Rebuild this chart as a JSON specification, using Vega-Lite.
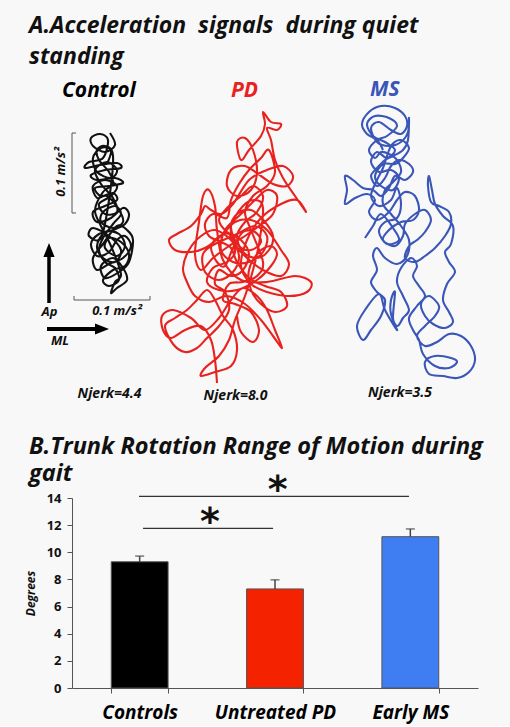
{
"$schema": "https://vega.github.io/schema/vega-lite/v6.json",
"background": "#f8f8f8",
"padding": {"left": 24, "top": 0, "right": 0, "bottom": 4},
"bounds": "flush",
"spacing": 88,
"config": {"view": {"stroke": null}, "font": "Open Sans"},
"resolve": {"scale": {"color": "independent"}},
"datasets": {
"traces": [
{"g":"Control","i":1,"x":105,"y":133},{"g":"Control","i":2,"x":110,"y":145},{"g":"Control","i":3,"x":100,"y":152},{"g":"Control","i":4,"x":88,"y":146},{"g":"Control","i":5,"x":86,"y":138},{"g":"Control","i":6,"x":95,"y":134},{"g":"Control","i":7,"x":103,"y":140},{"g":"Control","i":8,"x":98,"y":158},{"g":"Control","i":9,"x":84,"y":162},{"g":"Control","i":10,"x":80,"y":168},{"g":"Control","i":11,"x":95,"y":165},{"g":"Control","i":12,"x":112,"y":163},{"g":"Control","i":13,"x":116,"y":168},{"g":"Control","i":14,"x":100,"y":170},{"g":"Control","i":15,"x":86,"y":175},{"g":"Control","i":16,"x":92,"y":180},{"g":"Control","i":17,"x":110,"y":178},{"g":"Control","i":18,"x":118,"y":183},{"g":"Control","i":19,"x":104,"y":186},{"g":"Control","i":20,"x":90,"y":188},{"g":"Control","i":21,"x":96,"y":196},{"g":"Control","i":22,"x":108,"y":193},{"g":"Control","i":23,"x":112,"y":200},{"g":"Control","i":24,"x":100,"y":206},{"g":"Control","i":25,"x":88,"y":212},{"g":"Control","i":26,"x":92,"y":222},{"g":"Control","i":27,"x":106,"y":218},{"g":"Control","i":28,"x":118,"y":208},{"g":"Control","i":29,"x":124,"y":214},{"g":"Control","i":30,"x":120,"y":224},{"g":"Control","i":31,"x":108,"y":230},{"g":"Control","i":32,"x":94,"y":234},{"g":"Control","i":33,"x":86,"y":244},{"g":"Control","i":34,"x":92,"y":256},{"g":"Control","i":35,"x":104,"y":252},{"g":"Control","i":36,"x":112,"y":240},{"g":"Control","i":37,"x":120,"y":236},{"g":"Control","i":38,"x":126,"y":246},{"g":"Control","i":39,"x":118,"y":258},{"g":"Control","i":40,"x":104,"y":264},{"g":"Control","i":41,"x":92,"y":270},{"g":"Control","i":42,"x":88,"y":258},{"g":"Control","i":43,"x":98,"y":244},{"g":"Control","i":44,"x":112,"y":226},{"g":"Control","i":45,"x":122,"y":230},{"g":"Control","i":46,"x":128,"y":240},{"g":"Control","i":47,"x":124,"y":262},{"g":"Control","i":48,"x":114,"y":272},{"g":"Control","i":49,"x":100,"y":278},{"g":"Control","i":50,"x":96,"y":266},{"g":"Control","i":51,"x":108,"y":258},{"g":"Control","i":52,"x":118,"y":268},{"g":"Control","i":53,"x":122,"y":280},{"g":"Control","i":54,"x":112,"y":288},{"g":"Control","i":55,"x":106,"y":293},{"g":"Control","i":56,"x":110,"y":282},{"g":"Control","i":57,"x":116,"y":274},{"g":"Control","i":58,"x":106,"y":246},{"g":"Control","i":59,"x":96,"y":226},{"g":"Control","i":60,"x":90,"y":210},{"g":"Control","i":61,"x":98,"y":192},{"g":"Control","i":62,"x":108,"y":184},{"g":"Control","i":63,"x":104,"y":172},{"g":"Control","i":64,"x":94,"y":160},{"g":"Control","i":65,"x":92,"y":150},{"g":"Control","i":66,"x":100,"y":146},{"g":"Control","i":67,"x":108,"y":156},{"g":"Control","i":68,"x":104,"y":200},{"g":"Control","i":69,"x":96,"y":238},{"g":"Control","i":70,"x":84,"y":236},{"g":"Control","i":71,"x":88,"y":228},{"g":"Control","i":72,"x":104,"y":236},{"g":"Control","i":73,"x":116,"y":250},
{"g":"Control","i":74,"x":110,"y":262},{"g":"Control","i":75,"x":98,"y":258},{"g":"Control","i":76,"x":92,"y":246},{"g":"Control","i":77,"x":100,"y":232},{"g":"Control","i":78,"x":114,"y":234},{"g":"Control","i":79,"x":120,"y":246},{"g":"Control","i":80,"x":112,"y":256},{"g":"Control","i":81,"x":100,"y":248},{"g":"Control","i":82,"x":104,"y":238},{"g":"Control","i":83,"x":116,"y":242},{"g":"Control","i":84,"x":124,"y":254},{"g":"Control","i":85,"x":120,"y":266},{"g":"Control","i":86,"x":108,"y":270},{"g":"Control","i":87,"x":98,"y":280},{"g":"Control","i":88,"x":104,"y":286},{"g":"Control","i":89,"x":114,"y":280},{"g":"Control","i":90,"x":110,"y":268},{"g":"Control","i":91,"x":100,"y":262},{"g":"Control","i":92,"x":94,"y":250},{"g":"Control","i":93,"x":98,"y":238},{"g":"Control","i":94,"x":108,"y":224},{"g":"Control","i":95,"x":116,"y":214},{"g":"Control","i":96,"x":110,"y":206},{"g":"Control","i":97,"x":98,"y":212},{"g":"Control","i":98,"x":96,"y":222},{"g":"Control","i":99,"x":108,"y":228},{"g":"Control","i":100,"x":118,"y":222},{"g":"Control","i":101,"x":114,"y":210},{"g":"Control","i":102,"x":102,"y":196},{"g":"Control","i":103,"x":92,"y":198},{"g":"Control","i":104,"x":88,"y":186},{"g":"Control","i":105,"x":100,"y":180},{"g":"Control","i":106,"x":112,"y":186},{"g":"Control","i":107,"x":106,"y":196},{"g":"Control","i":108,"x":94,"y":204},{"g":"Control","i":109,"x":100,"y":214},{"g":"Control","i":110,"x":112,"y":212},{"g":"Control","i":111,"x":108,"y":198},{"g":"Control","i":112,"x":96,"y":184},{"g":"Control","i":113,"x":90,"y":170},{"g":"Control","i":114,"x":102,"y":162},{"g":"Control","i":115,"x":112,"y":170},{"g":"Control","i":116,"x":106,"y":178},{"g":"Control","i":117,"x":92,"y":172},{"g":"Control","i":118,"x":88,"y":158},{"g":"Control","i":119,"x":96,"y":148},{"g":"Control","i":120,"x":106,"y":150},{"g":"Control","i":121,"x":102,"y":164},
{"g":"PD","i":1,"x":212,"y":383},{"g":"PD","i":2,"x":210,"y":360},{"g":"PD","i":3,"x":206,"y":340},{"g":"PD","i":4,"x":196,"y":326},{"g":"PD","i":5,"x":180,"y":330},{"g":"PD","i":6,"x":166,"y":338},{"g":"PD","i":7,"x":158,"y":330},{"g":"PD","i":8,"x":157,"y":316},{"g":"PD","i":9,"x":168,"y":310},{"g":"PD","i":10,"x":186,"y":318},{"g":"PD","i":11,"x":200,"y":330},{"g":"PD","i":12,"x":214,"y":318},{"g":"PD","i":13,"x":226,"y":300},{"g":"PD","i":14,"x":238,"y":288},{"g":"PD","i":15,"x":252,"y":296},{"g":"PD","i":16,"x":262,"y":310},{"g":"PD","i":17,"x":270,"y":330},{"g":"PD","i":18,"x":277,"y":348},{"g":"PD","i":19,"x":268,"y":336},{"g":"PD","i":20,"x":256,"y":320},{"g":"PD","i":21,"x":240,"y":304},{"g":"PD","i":22,"x":222,"y":296},{"g":"PD","i":23,"x":204,"y":302},{"g":"PD","i":24,"x":190,"y":296},{"g":"PD","i":25,"x":182,"y":282},{"g":"PD","i":26,"x":178,"y":268},{"g":"PD","i":27,"x":184,"y":250},{"g":"PD","i":28,"x":196,"y":236},{"g":"PD","i":29,"x":210,"y":230},{"g":"PD","i":30,"x":226,"y":240},{"g":"PD","i":31,"x":234,"y":256},{"g":"PD","i":32,"x":228,"y":272},{"g":"PD","i":33,"x":214,"y":280},{"g":"PD","i":34,"x":200,"y":272},{"g":"PD","i":35,"x":198,"y":254},{"g":"PD","i":36,"x":210,"y":244},{"g":"PD","i":37,"x":232,"y":234},{"g":"PD","i":38,"x":250,"y":226},{"g":"PD","i":39,"x":262,"y":236},{"g":"PD","i":40,"x":258,"y":252},{"g":"PD","i":41,"x":244,"y":262},{"g":"PD","i":42,"x":228,"y":262},{"g":"PD","i":43,"x":216,"y":250},{"g":"PD","i":44,"x":220,"y":230},{"g":"PD","i":45,"x":236,"y":214},{"g":"PD","i":46,"x":250,"y":200},{"g":"PD","i":47,"x":262,"y":190},{"g":"PD","i":48,"x":272,"y":196},{"g":"PD","i":49,"x":268,"y":214},{"g":"PD","i":50,"x":254,"y":226},{"g":"PD","i":51,"x":240,"y":236},{"g":"PD","i":52,"x":224,"y":246},{"g":"PD","i":53,"x":208,"y":258},{"g":"PD","i":54,"x":196,"y":270},{"g":"PD","i":55,"x":190,"y":254},{"g":"PD","i":56,"x":194,"y":222},{"g":"PD","i":57,"x":198,"y":196},{"g":"PD","i":58,"x":204,"y":190},{"g":"PD","i":59,"x":210,"y":206},{"g":"PD","i":60,"x":212,"y":230},{"g":"PD","i":61,"x":218,"y":260},{"g":"PD","i":62,"x":236,"y":280},{"g":"PD","i":63,"x":262,"y":282},{"g":"PD","i":64,"x":290,"y":276},{"g":"PD","i":65,"x":306,"y":282},{"g":"PD","i":66,"x":302,"y":292},{"g":"PD","i":67,"x":284,"y":296},{"g":"PD","i":68,"x":262,"y":292},{"g":"PD","i":69,"x":246,"y":284},{"g":"PD","i":70,"x":236,"y":266},{"g":"PD","i":71,"x":242,"y":240},{"g":"PD","i":72,"x":256,"y":218},{"g":"PD","i":73,"x":276,"y":204},{"g":"PD","i":74,"x":292,"y":200},{"g":"PD","i":75,"x":301,"y":212},{"g":"PD","i":76,"x":290,"y":196},{"g":"PD","i":77,"x":278,"y":178},{"g":"PD","i":78,"x":270,"y":160},{"g":"PD","i":79,"x":266,"y":140},{"g":"PD","i":80,"x":262,"y":128},{"g":"PD","i":81,"x":272,"y":130},{"g":"PD","i":82,"x":276,"y":124},{"g":"PD","i":83,"x":266,"y":122},{"g":"PD","i":84,"x":258,"y":112},{"g":"PD","i":85,"x":260,"y":124},{"g":"PD","i":86,"x":256,"y":136},{"g":"PD","i":87,"x":244,"y":150},{"g":"PD","i":88,"x":236,"y":160},{"g":"PD","i":89,"x":232,"y":142},{"g":"PD","i":90,"x":240,"y":138},{"g":"PD","i":91,"x":248,"y":150},{"g":"PD","i":92,"x":252,"y":172},{"g":"PD","i":93,"x":246,"y":190},{"g":"PD","i":94,"x":232,"y":196},{"g":"PD","i":95,"x":222,"y":186},{"g":"PD","i":96,"x":226,"y":170},{"g":"PD","i":97,"x":240,"y":166},{"g":"PD","i":98,"x":256,"y":176},{"g":"PD","i":99,"x":268,"y":184},{"g":"PD","i":100,"x":282,"y":186},{"g":"PD","i":101,"x":288,"y":176},{"g":"PD","i":102,"x":278,"y":166},{"g":"PD","i":103,"x":262,"y":170},{"g":"PD","i":104,"x":244,"y":180},{"g":"PD","i":105,"x":228,"y":204},{"g":"PD","i":106,"x":216,"y":214},{"g":"PD","i":107,"x":206,"y":210},{"g":"PD","i":108,"x":200,"y":206},{"g":"PD","i":109,"x":196,"y":214},{"g":"PD","i":110,"x":186,"y":226},{"g":"PD","i":111,"x":172,"y":234},{"g":"PD","i":112,"x":164,"y":240},{"g":"PD","i":113,"x":170,"y":250},{"g":"PD","i":114,"x":186,"y":252},{"g":"PD","i":115,"x":200,"y":248},{"g":"PD","i":116,"x":216,"y":236},{"g":"PD","i":117,"x":230,"y":222},{"g":"PD","i":118,"x":246,"y":220},{"g":"PD","i":119,"x":262,"y":230},{"g":"PD","i":120,"x":276,"y":250},{"g":"PD","i":121,"x":284,"y":264},{"g":"PD","i":122,"x":276,"y":276},{"g":"PD","i":123,"x":258,"y":270},{"g":"PD","i":124,"x":242,"y":258},{"g":"PD","i":125,"x":230,"y":244},{"g":"PD","i":126,"x":226,"y":226},{"g":"PD","i":127,"x":238,"y":206},{"g":"PD","i":128,"x":250,"y":200},{"g":"PD","i":129,"x":258,"y":208},{"g":"PD","i":130,"x":254,"y":244},{"g":"PD","i":131,"x":248,"y":270},{"g":"PD","i":132,"x":240,"y":296},{"g":"PD","i":133,"x":230,"y":320},{"g":"PD","i":134,"x":224,"y":340},{"g":"PD","i":135,"x":214,"y":356},{"g":"PD","i":136,"x":200,"y":368},{"g":"PD","i":137,"x":196,"y":376},{"g":"PD","i":138,"x":210,"y":372},{"g":"PD","i":139,"x":226,"y":366},{"g":"PD","i":140,"x":232,"y":350},{"g":"PD","i":141,"x":228,"y":330},{"g":"PD","i":142,"x":218,"y":316},{"g":"PD","i":143,"x":210,"y":300},{"g":"PD","i":144,"x":202,"y":290},{"g":"PD","i":145,"x":192,"y":300},{"g":"PD","i":146,"x":182,"y":310},{"g":"PD","i":147,"x":170,"y":318},{"g":"PD","i":148,"x":160,"y":326},{"g":"PD","i":149,"x":168,"y":344},{"g":"PD","i":150,"x":180,"y":352},{"g":"PD","i":151,"x":192,"y":348},{"g":"PD","i":152,"x":202,"y":338},
{"g":"PD","i":153,"x":214,"y":326},{"g":"PD","i":154,"x":224,"y":310},{"g":"PD","i":155,"x":220,"y":292},{"g":"PD","i":156,"x":210,"y":284},{"g":"PD","i":157,"x":214,"y":270},{"g":"PD","i":158,"x":226,"y":276},{"g":"PD","i":159,"x":238,"y":270},{"g":"PD","i":160,"x":244,"y":254},{"g":"PD","i":161,"x":236,"y":240},{"g":"PD","i":162,"x":222,"y":232},{"g":"PD","i":163,"x":214,"y":220},{"g":"PD","i":164,"x":222,"y":208},{"g":"PD","i":165,"x":236,"y":196},{"g":"PD","i":166,"x":248,"y":186},{"g":"PD","i":167,"x":258,"y":196},{"g":"PD","i":168,"x":252,"y":212},{"g":"PD","i":169,"x":240,"y":222},{"g":"PD","i":170,"x":232,"y":236},{"g":"PD","i":171,"x":238,"y":252},{"g":"PD","i":172,"x":252,"y":258},{"g":"PD","i":173,"x":264,"y":250},{"g":"PD","i":174,"x":268,"y":236},{"g":"PD","i":175,"x":260,"y":222},{"g":"PD","i":176,"x":246,"y":210},{"g":"PD","i":177,"x":232,"y":214},{"g":"PD","i":178,"x":226,"y":228},{"g":"PD","i":179,"x":234,"y":246},{"g":"PD","i":180,"x":246,"y":250},{"g":"PD","i":181,"x":256,"y":242},{"g":"PD","i":182,"x":250,"y":232},{"g":"PD","i":183,"x":238,"y":232},{"g":"PD","i":184,"x":228,"y":248},{"g":"PD","i":185,"x":220,"y":266},{"g":"PD","i":186,"x":212,"y":262},{"g":"PD","i":187,"x":206,"y":248},{"g":"PD","i":188,"x":212,"y":238},{"g":"PD","i":189,"x":224,"y":234},{"g":"PD","i":190,"x":230,"y":252},{"g":"PD","i":191,"x":222,"y":262},{"g":"PD","i":192,"x":208,"y":268},{"g":"PD","i":193,"x":202,"y":282},{"g":"PD","i":194,"x":214,"y":290},{"g":"PD","i":195,"x":232,"y":290},{"g":"PD","i":196,"x":252,"y":280},{"g":"PD","i":197,"x":266,"y":266},{"g":"PD","i":198,"x":272,"y":254},{"g":"PD","i":199,"x":266,"y":246},{"g":"PD","i":200,"x":254,"y":252},{"g":"PD","i":201,"x":244,"y":270},{"g":"PD","i":202,"x":246,"y":290},{"g":"PD","i":203,"x":256,"y":304},{"g":"PD","i":204,"x":270,"y":312},{"g":"PD","i":205,"x":282,"y":306},{"g":"PD","i":206,"x":276,"y":292},{"g":"PD","i":207,"x":260,"y":286},{"g":"PD","i":208,"x":244,"y":278},{"g":"PD","i":209,"x":232,"y":262},{"g":"PD","i":210,"x":226,"y":248},{"g":"PD","i":211,"x":216,"y":242},{"g":"PD","i":212,"x":204,"y":236},{"g":"PD","i":213,"x":200,"y":224},{"g":"PD","i":214,"x":208,"y":214},{"g":"PD","i":215,"x":222,"y":218},{"g":"PD","i":216,"x":226,"y":200},{"g":"PD","i":217,"x":234,"y":184},{"g":"PD","i":218,"x":244,"y":170},{"g":"PD","i":219,"x":256,"y":158},{"g":"PD","i":220,"x":264,"y":150},{"g":"PD","i":221,"x":270,"y":172},{"g":"PD","i":222,"x":262,"y":186},{"g":"PD","i":223,"x":248,"y":196},{"g":"PD","i":224,"x":240,"y":212},{"g":"PD","i":225,"x":246,"y":230},{"g":"PD","i":226,"x":258,"y":262},{"g":"PD","i":227,"x":252,"y":276},{"g":"PD","i":228,"x":238,"y":282},{"g":"PD","i":229,"x":224,"y":284},{"g":"PD","i":230,"x":218,"y":300},{"g":"PD","i":231,"x":230,"y":304},{"g":"PD","i":232,"x":246,"y":312},{"g":"PD","i":233,"x":254,"y":330},{"g":"PD","i":234,"x":248,"y":342},{"g":"PD","i":235,"x":236,"y":332},{"g":"PD","i":236,"x":232,"y":316},
{"g":"MS","i":1,"x":378,"y":150},{"g":"MS","i":2,"x":372,"y":140},{"g":"MS","i":3,"x":362,"y":134},{"g":"MS","i":4,"x":357,"y":124},{"g":"MS","i":5,"x":364,"y":112},{"g":"MS","i":6,"x":376,"y":106},{"g":"MS","i":7,"x":390,"y":108},{"g":"MS","i":8,"x":400,"y":116},{"g":"MS","i":9,"x":402,"y":126},{"g":"MS","i":10,"x":396,"y":134},{"g":"MS","i":11,"x":386,"y":130},{"g":"MS","i":12,"x":374,"y":122},{"g":"MS","i":13,"x":366,"y":128},{"g":"MS","i":14,"x":372,"y":142},{"g":"MS","i":15,"x":384,"y":146},{"g":"MS","i":16,"x":396,"y":142},{"g":"MS","i":17,"x":403,"y":132},{"g":"MS","i":18,"x":404,"y":118},{"g":"MS","i":19,"x":403,"y":140},{"g":"MS","i":20,"x":398,"y":150},{"g":"MS","i":21,"x":388,"y":156},{"g":"MS","i":22,"x":380,"y":160},{"g":"MS","i":23,"x":372,"y":168},{"g":"MS","i":24,"x":366,"y":176},{"g":"MS","i":25,"x":372,"y":186},{"g":"MS","i":26,"x":380,"y":178},{"g":"MS","i":27,"x":386,"y":166},{"g":"MS","i":28,"x":394,"y":160},{"g":"MS","i":29,"x":404,"y":164},{"g":"MS","i":30,"x":408,"y":172},{"g":"MS","i":31,"x":400,"y":180},{"g":"MS","i":32,"x":390,"y":176},{"g":"MS","i":33,"x":384,"y":188},{"g":"MS","i":34,"x":376,"y":196},{"g":"MS","i":35,"x":368,"y":190},{"g":"MS","i":36,"x":358,"y":188},{"g":"MS","i":37,"x":348,"y":180},{"g":"MS","i":38,"x":340,"y":176},{"g":"MS","i":39,"x":342,"y":190},{"g":"MS","i":40,"x":340,"y":204},{"g":"MS","i":41,"x":350,"y":198},{"g":"MS","i":42,"x":362,"y":194},{"g":"MS","i":43,"x":370,"y":200},{"g":"MS","i":44,"x":364,"y":212},{"g":"MS","i":45,"x":372,"y":220},{"g":"MS","i":46,"x":384,"y":212},{"g":"MS","i":47,"x":392,"y":200},{"g":"MS","i":48,"x":400,"y":192},{"g":"MS","i":49,"x":410,"y":196},{"g":"MS","i":50,"x":414,"y":210},{"g":"MS","i":51,"x":408,"y":220},{"g":"MS","i":52,"x":396,"y":222},{"g":"MS","i":53,"x":384,"y":230},{"g":"MS","i":54,"x":378,"y":240},{"g":"MS","i":55,"x":390,"y":246},{"g":"MS","i":56,"x":398,"y":236},{"g":"MS","i":57,"x":400,"y":224},{"g":"MS","i":58,"x":410,"y":214},{"g":"MS","i":59,"x":420,"y":210},{"g":"MS","i":60,"x":426,"y":220},{"g":"MS","i":61,"x":420,"y":232},{"g":"MS","i":62,"x":412,"y":240},{"g":"MS","i":63,"x":404,"y":246},{"g":"MS","i":64,"x":400,"y":258},{"g":"MS","i":65,"x":410,"y":262},{"g":"MS","i":66,"x":420,"y":256},{"g":"MS","i":67,"x":430,"y":248},{"g":"MS","i":68,"x":440,"y":236},{"g":"MS","i":69,"x":446,"y":224},{"g":"MS","i":70,"x":444,"y":212},{"g":"MS","i":71,"x":434,"y":206},{"g":"MS","i":72,"x":426,"y":202},{"g":"MS","i":73,"x":423,"y":186},{"g":"MS","i":74,"x":424,"y":176},{"g":"MS","i":75,"x":427,"y":190},{"g":"MS","i":76,"x":430,"y":204},{"g":"MS","i":77,"x":438,"y":216},{"g":"MS","i":78,"x":448,"y":226},{"g":"MS","i":79,"x":446,"y":244},{"g":"MS","i":80,"x":440,"y":252},{"g":"MS","i":81,"x":444,"y":262},{"g":"MS","i":82,"x":450,"y":272},{"g":"MS","i":83,"x":442,"y":284},{"g":"MS","i":84,"x":438,"y":300},{"g":"MS","i":85,"x":444,"y":312},{"g":"MS","i":86,"x":448,"y":322},{"g":"MS","i":87,"x":440,"y":328},{"g":"MS","i":88,"x":428,"y":324},{"g":"MS","i":89,"x":420,"y":316},{"g":"MS","i":90,"x":416,"y":304},{"g":"MS","i":91,"x":424,"y":296},{"g":"MS","i":92,"x":434,"y":306},{"g":"MS","i":93,"x":430,"y":316},{"g":"MS","i":94,"x":420,"y":326},{"g":"MS","i":95,"x":412,"y":336},{"g":"MS","i":96,"x":420,"y":346},{"g":"MS","i":97,"x":432,"y":342},{"g":"MS","i":98,"x":444,"y":334},{"g":"MS","i":99,"x":456,"y":336},{"g":"MS","i":100,"x":466,"y":346},{"g":"MS","i":101,"x":470,"y":360},{"g":"MS","i":102,"x":464,"y":372},{"g":"MS","i":103,"x":452,"y":378},{"g":"MS","i":104,"x":438,"y":376},{"g":"MS","i":105,"x":424,"y":374},{"g":"MS","i":106,"x":420,"y":362},{"g":"MS","i":107,"x":430,"y":356},{"g":"MS","i":108,"x":446,"y":358},{"g":"MS","i":109,"x":452,"y":362},{"g":"MS","i":110,"x":444,"y":368},{"g":"MS","i":111,"x":430,"y":366},{"g":"MS","i":112,"x":418,"y":354},{"g":"MS","i":113,"x":414,"y":340},{"g":"MS","i":114,"x":408,"y":330},{"g":"MS","i":115,"x":404,"y":318},{"g":"MS","i":116,"x":412,"y":306},{"g":"MS","i":117,"x":420,"y":296},{"g":"MS","i":118,"x":414,"y":286},{"g":"MS","i":119,"x":408,"y":276},{"g":"MS","i":120,"x":412,"y":266},{"g":"MS","i":121,"x":406,"y":258},{"g":"MS","i":122,"x":396,"y":268},{"g":"MS","i":123,"x":392,"y":282},{"g":"MS","i":124,"x":398,"y":296},{"g":"MS","i":125,"x":404,"y":310},{"g":"MS","i":126,"x":398,"y":318},{"g":"MS","i":127,"x":392,"y":326},{"g":"MS","i":128,"x":386,"y":314},{"g":"MS","i":129,"x":386,"y":300},{"g":"MS","i":130,"x":390,"y":292},{"g":"MS","i":131,"x":388,"y":318},{"g":"MS","i":132,"x":392,"y":330},{"g":"MS","i":133,"x":380,"y":310},{"g":"MS","i":134,"x":374,"y":294},{"g":"MS","i":135,"x":360,"y":310},{"g":"MS","i":136,"x":352,"y":326},{"g":"MS","i":137,"x":358,"y":340},{"g":"MS","i":138,"x":366,"y":330},{"g":"MS","i":139,"x":376,"y":316},{"g":"MS","i":140,"x":380,"y":300},{"g":"MS","i":141,"x":372,"y":292},{"g":"MS","i":142,"x":366,"y":282},{"g":"MS","i":143,"x":372,"y":270},{"g":"MS","i":144,"x":368,"y":256},{"g":"MS","i":145,"x":372,"y":248},{"g":"MS","i":146,"x":380,"y":258},{"g":"MS","i":147,"x":392,"y":264},{"g":"MS","i":148,"x":402,"y":256},{"g":"MS","i":149,"x":404,"y":240},{"g":"MS","i":150,"x":396,"y":226},{"g":"MS","i":151,"x":386,"y":214},{"g":"MS","i":152,"x":378,"y":204},{"g":"MS","i":153,"x":380,"y":190},{"g":"MS","i":154,"x":388,"y":182},{"g":"MS","i":155,"x":396,"y":172},{"g":"MS","i":156,"x":392,"y":160},{"g":"MS","i":157,"x":384,"y":154},{"g":"MS","i":158,"x":376,"y":152},{"g":"MS","i":159,"x":370,"y":158},{"g":"MS","i":160,"x":364,"y":150},{"g":"MS","i":161,"x":372,"y":140},
{"g":"MS","i":162,"x":382,"y":136},{"g":"MS","i":163,"x":392,"y":126},{"g":"MS","i":164,"x":384,"y":118},{"g":"MS","i":165,"x":370,"y":116},{"g":"MS","i":166,"x":362,"y":124},{"g":"MS","i":167,"x":368,"y":136},{"g":"MS","i":168,"x":380,"y":142},{"g":"MS","i":169,"x":390,"y":150},{"g":"MS","i":170,"x":382,"y":158},{"g":"MS","i":171,"x":372,"y":152},{"g":"MS","i":172,"x":366,"y":162},{"g":"MS","i":173,"x":374,"y":172},{"g":"MS","i":174,"x":386,"y":170},{"g":"MS","i":175,"x":394,"y":178},{"g":"MS","i":176,"x":388,"y":190},{"g":"MS","i":177,"x":376,"y":186},{"g":"MS","i":178,"x":370,"y":176},{"g":"MS","i":179,"x":378,"y":164},{"g":"MS","i":180,"x":390,"y":164},{"g":"MS","i":181,"x":398,"y":158},{"g":"MS","i":182,"x":404,"y":148},{"g":"MS","i":183,"x":396,"y":140},{"g":"MS","i":184,"x":386,"y":146},{"g":"MS","i":185,"x":378,"y":168},{"g":"MS","i":186,"x":372,"y":180},{"g":"MS","i":187,"x":366,"y":196},{"g":"MS","i":188,"x":374,"y":206},{"g":"MS","i":189,"x":386,"y":200},{"g":"MS","i":190,"x":392,"y":188},{"g":"MS","i":191,"x":396,"y":204},{"g":"MS","i":192,"x":392,"y":218},{"g":"MS","i":193,"x":380,"y":222},{"g":"MS","i":194,"x":374,"y":232},{"g":"MS","i":195,"x":382,"y":244},{"g":"MS","i":196,"x":394,"y":240},{"g":"MS","i":197,"x":388,"y":228},{"g":"MS","i":198,"x":376,"y":214},{"g":"MS","i":199,"x":368,"y":226},{"g":"MS","i":200,"x":360,"y":238}
],
"bars": [
{"group":"Controls","mean":9.3,"upper":9.72},
{"group":"Untreated PD","mean":7.3,"upper":7.97},
{"group":"Early MS","mean":11.15,"upper":11.72}
],
"sig": [
{"from":0.495,"to":2.49,"level":14.12,"mid":1.52,"star":13.68},
{"from":0.525,"to":1.486,"level":11.76,"mid":1.02,"star":11.32}
]
},
"vconcat": [
{
"width": 443, "height": 410,
"encoding": {
"x": {"type": "quantitative", "scale": {"domain": [67, 510], "nice": false, "zero": false}, "axis": null},
"y": {"type": "quantitative", "scale": {"domain": [0, 410], "reverse": true, "nice": false, "zero": false}, "axis": null}
},
"layer": [
{"data": {"name": "traces"},
 "mark": {"type": "line", "interpolate": "cardinal", "strokeWidth": 2.1, "strokeJoin": "round"},
 "encoding": {
  "x": {"field": "x", "type": "quantitative"},
  "y": {"field": "y", "type": "quantitative"},
  "detail": {"field": "g"},
  "order": {"field": "i", "type": "quantitative"},
  "color": {"field": "g", "type": "nominal", "scale": {"domain": ["Control", "PD", "MS"], "range": ["#111111", "#e8231f", "#3a56b8"]}, "legend": null}
 }},
{"data": {"values": [{}]}, "mark": {"type": "rule", "color": "#555", "strokeWidth": 1}, "encoding": {"x": {"datum": 67}, "x2": {"datum": 67}, "y": {"datum": 133}, "y2": {"datum": 213}}},
{"data": {"values": [{}]}, "mark": {"type": "rule", "color": "#555", "strokeWidth": 1}, "encoding": {"x": {"datum": 67}, "x2": {"datum": 71}, "y": {"datum": 133}, "y2": {"datum": 133}}},
{"data": {"values": [{}]}, "mark": {"type": "rule", "color": "#555", "strokeWidth": 1}, "encoding": {"x": {"datum": 67}, "x2": {"datum": 71}, "y": {"datum": 213}, "y2": {"datum": 213}}},
{"data": {"values": [{}]}, "mark": {"type": "rule", "color": "#555", "strokeWidth": 1}, "encoding": {"x": {"datum": 69}, "x2": {"datum": 145}, "y": {"datum": 300}, "y2": {"datum": 300}}},
{"data": {"values": [{}]}, "mark": {"type": "rule", "color": "#555", "strokeWidth": 1}, "encoding": {"x": {"datum": 69}, "x2": {"datum": 69}, "y": {"datum": 296}, "y2": {"datum": 300}}},
{"data": {"values": [{}]}, "mark": {"type": "rule", "color": "#555", "strokeWidth": 1}, "encoding": {"x": {"datum": 145}, "x2": {"datum": 145}, "y": {"datum": 296}, "y2": {"datum": 300}}},
{"data": {"values": [{}]}, "mark": {"type": "rule", "color": "#000", "strokeWidth": 3.5}, "encoding": {"x": {"datum": 44}, "x2": {"datum": 44}, "y": {"datum": 303}, "y2": {"datum": 252}}},
{"data": {"values": [{}]}, "mark": {"type": "point", "shape": "M0,-1L0.7,0.75L-0.7,0.75Z", "size": 256, "filled": true, "color": "#000", "opacity": 1}, "encoding": {"x": {"datum": 44}, "y": {"datum": 251}}},
{"data": {"values": [{}]}, "mark": {"type": "rule", "color": "#000", "strokeWidth": 4}, "encoding": {"x": {"datum": 42}, "x2": {"datum": 92}, "y": {"datum": 329}, "y2": {"datum": 329}}},
{"data": {"values": [{}]}, "mark": {"type": "point", "shape": "M1,0L-0.75,0.7L-0.75,-0.7Z", "size": 256, "filled": true, "color": "#000", "opacity": 1}, "encoding": {"x": {"datum": 96}, "y": {"datum": 329}}},
{"data": {"values": [{}]}, "mark": {"type": "text", "align": "left", "baseline": "alphabetic", "fontSize": 23, "fontWeight": "bold", "fontStyle": "italic", "color": "#111", "lineBreak": "\n", "lineHeight": 31}, "encoding": {"x": {"datum": 24}, "y": {"datum": 33}, "text": {"value": "A.Acceleration\u00a0 signals\u00a0 during quiet\nstanding"}}},
{"data": {"values": [{}]}, "mark": {"type": "text", "align": "left", "baseline": "alphabetic", "fontSize": 21, "fontWeight": "bold", "fontStyle": "italic", "color": "#000"}, "encoding": {"x": {"datum": 57}, "y": {"datum": 97}, "text": {"value": "Control"}}},
{"data": {"values": [{}]}, "mark": {"type": "text", "align": "left", "baseline": "alphabetic", "fontSize": 21, "fontWeight": "bold", "fontStyle": "italic", "color": "#e8231f"}, "encoding": {"x": {"datum": 226}, "y": {"datum": 97}, "text": {"value": "PD"}}},
{"data": {"values": [{}]}, "mark": {"type": "text", "align": "left", "baseline": "alphabetic", "fontSize": 21, "fontWeight": "bold", "fontStyle": "italic", "color": "#3a56b8"}, "encoding": {"x": {"datum": 365}, "y": {"datum": 96}, "text": {"value": "MS"}}},
{"data": {"values": [{}]}, "mark": {"type": "text", "align": "center", "baseline": "alphabetic", "fontSize": 14, "fontWeight": "bold", "fontStyle": "italic", "color": "#111"}, "encoding": {"x": {"datum": 104.5}, "y": {"datum": 398}, "text": {"value": "Njerk=4.4"}}},
{"data": {"values": [{}]}, "mark": {"type": "text", "align": "center", "baseline": "alphabetic", "fontSize": 14, "fontWeight": "bold", "fontStyle": "italic", "color": "#111"}, "encoding": {"x": {"datum": 230.5}, "y": {"datum": 400}, "text": {"value": "Njerk=8.0"}}},
{"data": {"values": [{}]}, "mark": {"type": "text", "align": "center", "baseline": "alphabetic", "fontSize": 14, "fontWeight": "bold", "fontStyle": "italic", "color": "#111"}, "encoding": {"x": {"datum": 395}, "y": {"datum": 397}, "text": {"value": "Njerk=3.5"}}},
{"data": {"values": [{}]}, "mark": {"type": "text", "align": "center", "baseline": "middle", "angle": 270, "fontSize": 13, "fontWeight": "bold", "fontStyle": "italic", "color": "#111"}, "encoding": {"x": {"datum": 56}, "y": {"datum": 172}, "text": {"value": "0.1 m/s²"}}},
{"data": {"values": [{}]}, "mark": {"type": "text", "align": "center", "baseline": "alphabetic", "fontSize": 13, "fontWeight": "bold", "fontStyle": "italic", "color": "#111"}, "encoding": {"x": {"datum": 112}, "y": {"datum": 315}, "text": {"value": "0.1 m/s²"}}},
{"data": {"values": [{}]}, "mark": {"type": "text", "align": "center", "baseline": "alphabetic", "fontSize": 13, "fontWeight": "bold", "fontStyle": "italic", "color": "#111"}, "encoding": {"x": {"datum": 44.5}, "y": {"datum": 316}, "text": {"value": "Ap"}}},
{"data": {"values": [{}]}, "mark": {"type": "text", "align": "center", "baseline": "alphabetic", "fontSize": 13, "fontWeight": "bold", "fontStyle": "italic", "color": "#111"}, "encoding": {"x": {"datum": 55}, "y": {"datum": 345}, "text": {"value": "ML"}}},
{"data": {"values": [{}]}, "mark": {"type": "text", "align": "left", "baseline": "alphabetic", "fontSize": 23.5, "fontWeight": "bold", "fontStyle": "italic", "color": "#111", "lineBreak": "\n", "lineHeight": 27}, "encoding": {"x": {"datum": 24}, "y": {"datum": 454}, "text": {"value": "B.Trunk Rotation Range of Motion during\ngait"}}}
]
},
{
"width": 406, "height": 190,
"layer": [
{
"data": {"name": "bars"},
"encoding": {
 "x": {"field": "group", "type": "nominal", "sort": null, "scale": {"paddingInner": 0.58, "paddingOuter": 0.29},
  "axis": {"title": null, "labelAngle": 0, "tickBand": "extent", "domainColor": "#555", "tickColor": "#555", "tickSize": 5, "labelFont": "Open Sans", "labelFontSize": 19, "labelFontWeight": "bold", "labelFontStyle": "italic", "labelColor": "#000", "labelPadding": 10}},
 "y": {"field": "mean", "type": "quantitative", "scale": {"domain": [0, 14], "nice": false},
  "axis": {"title": "Degrees", "values": [0, 2, 4, 6, 8, 10, 12, 14], "tickCount": 8, "labelOverlap": false, "grid": false, "domainColor": "#555", "tickColor": "#555", "tickSize": 5, "labelFont": "Open Sans", "labelFontSize": 13, "labelFontWeight": "bold", "labelColor": "#111", "labelPadding": 6, "titleFont": "Open Sans", "titleFontSize": 12, "titleFontWeight": "bold", "titleFontStyle": "italic", "titleColor": "#111", "titlePadding": 9}}
},
"layer": [
 {"mark": {"type": "bar", "stroke": "#555", "strokeWidth": 1},
  "encoding": {
   "color": {"field": "group", "type": "nominal", "scale": {"domain": ["Controls", "Untreated PD", "Early MS"], "range": ["#000000", "#f52200", "#3f7ef2"]}, "legend": null}
  }},
 {"mark": {"type": "rule", "color": "#444", "strokeWidth": 1.5},
  "encoding": {"y2": {"field": "upper"}}},
 {"mark": {"type": "tick", "color": "#444", "size": 9, "thickness": 1.5},
  "encoding": {"y": {"field": "upper", "type": "quantitative"}}}
]
},
{
"data": {"name": "sig"},
"layer": [
 {"mark": {"type": "rule", "color": "#333", "strokeWidth": 1.2},
  "encoding": {
   "x": {"field": "from", "type": "quantitative", "scale": {"domain": [0, 3], "nice": false, "zero": false}, "axis": null},
   "x2": {"field": "to"},
   "y": {"field": "level", "type": "quantitative"}}},
 {"mark": {"type": "text", "font": "DejaVu Sans", "fontWeight": "bold", "fontSize": 38, "baseline": "alphabetic", "align": "center", "color": "#111"},
  "encoding": {
   "x": {"field": "mid", "type": "quantitative", "scale": {"domain": [0, 3], "nice": false, "zero": false}, "axis": null},
   "y": {"field": "star", "type": "quantitative"},
   "text": {"value": "*"}}}
]
}
],
"resolve": {"scale": {"x": "independent"}}
}
]
}
